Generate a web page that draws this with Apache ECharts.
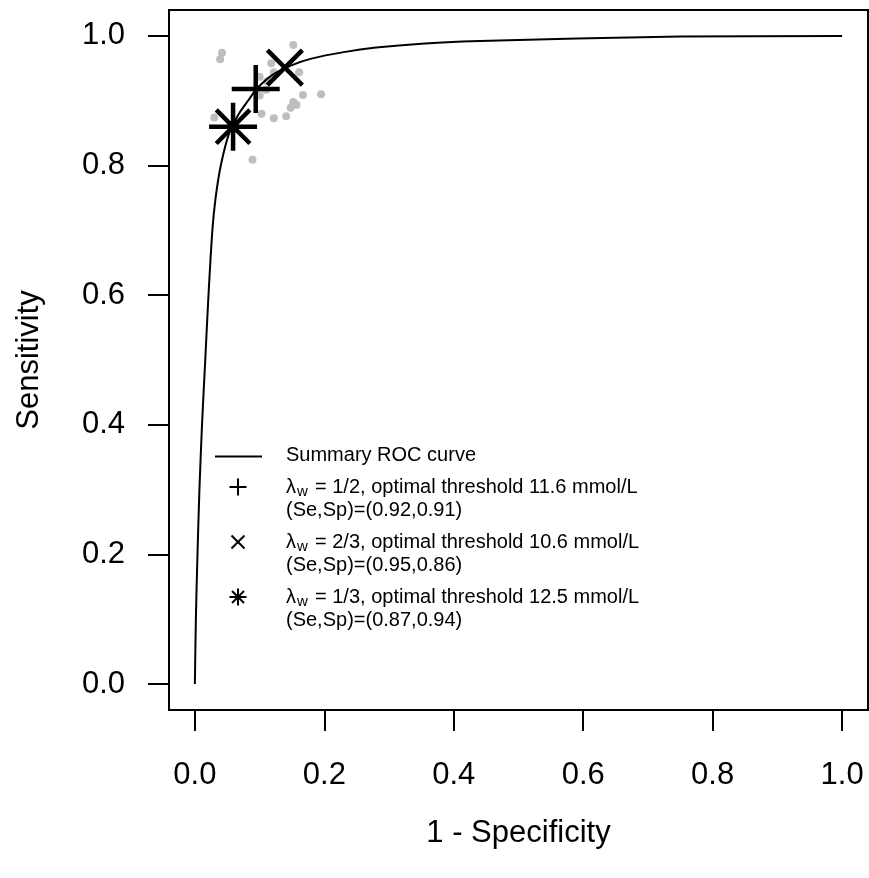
<!DOCTYPE html>
<html>
<head>
<meta charset="utf-8">
<script src="https://cdn.jsdelivr.net/npm/echarts@6/dist/echarts.min.js"></script>
<style>
html,body{margin:0;padding:0;background:#fff;}
#chart{width:869px;height:878px;}
</style>
</head>
<body>
<div id="chart"></div>
<script>
// ---- data ----
const tickValues = [0, 0.2, 0.4, 0.6, 0.8, 1.0];
const studyFPR  = [0.042,0.039,0.152,0.118,0.122,0.161,0.100,0.112,0.095,0.100,0.110,0.167,0.195,0.152,0.157,0.148,0.103,0.122,0.141,0.030,0.089];
const studySens = [0.974,0.964,0.986,0.958,0.944,0.944,0.937,0.930,0.915,0.908,0.917,0.909,0.910,0.898,0.894,0.889,0.880,0.873,0.876,0.874,0.809];
const curveFPR  = [0,0.0015,0.004,0.007,0.011,0.016,0.021,0.027,0.032,0.040,0.053,0.068,0.082,0.097,0.12,0.15,0.18,0.23,0.28,0.35,0.44,0.59,0.75,1.0];
const curveSens = [0,0.1,0.2,0.3,0.4,0.5,0.6,0.7,0.75,0.8,0.85,0.88,0.9,0.92,0.94,0.955,0.965,0.975,0.982,0.988,0.992,0.996,0.999,1.0];
const pointHalf  = [0.094, 0.918];   // lambda_w = 1/2
const pointTwo3  = [0.139, 0.951];   // lambda_w = 2/3
const pointOne3  = [0.059, 0.860];   // lambda_w = 1/3
const legendLabels = [
  'Summary ROC curve',
  ['1/2', 'optimal threshold 11.6 mmol/L', '(Se,Sp)=(0.92,0.91)'],
  ['2/3', 'optimal threshold 10.6 mmol/L', '(Se,Sp)=(0.95,0.86)'],
  ['1/3', 'optimal threshold 12.5 mmol/L', '(Se,Sp)=(0.87,0.94)']
];

const FONT = '"Liberation Sans", Arial, sans-serif';
const PLUS = 'path://M0,5L10,5M5,0L5,10';
const CROSS = 'path://M0,0L10,10M0,10L10,0';
const STAR = 'path://M0,5L10,5M5,0L5,10M1.5,1.5L8.5,8.5M1.5,8.5L8.5,1.5';

const chart = echarts.init(document.getElementById('chart'), null, {renderer: 'canvas'});

function markerSeries(name, pt, sym, size) {
  return {
    name: name, type: 'scatter', data: [pt], symbol: sym, symbolSize: size,
    itemStyle: {color: 'none', borderColor: '#000', borderWidth: 4.5, opacity: 1},
    z: 5, silent: true
  };
}

// legend graphics
const LX = 286, LFS = 20;
const rowsY = [455, 487, 510, 542, 565, 597, 620];
const g = [];
g.push({type: 'line', shape: {x1: 215, y1: 456.5, x2: 262, y2: 456.5}, style: {stroke: '#000', lineWidth: 2}});
g.push({type: 'text', x: LX, y: rowsY[0], style: {text: legendLabels[0], font: LFS + 'px ' + FONT, fill: '#000', verticalAlign: 'middle'}});
for (let i = 1; i <= 3; i++) {
  const y1 = rowsY[2 * i - 1], y2 = rowsY[2 * i];
  const e = legendLabels[i];
  g.push({type: 'text', x: LX, y: y1, style: {text: 'λ', font: LFS + 'px ' + FONT, fill: '#000', verticalAlign: 'middle'}});
  g.push({type: 'text', x: LX + 11, y: y1 + 5, style: {text: 'w', font: '15px ' + FONT, fill: '#000', verticalAlign: 'middle'}});
  g.push({type: 'text', x: LX + 29, y: y1, style: {text: '= ' + e[0] + ', ' + e[1], font: LFS + 'px ' + FONT, fill: '#000', verticalAlign: 'middle'}});
  g.push({type: 'text', x: LX, y: y2, style: {text: e[2], font: LFS + 'px ' + FONT, fill: '#000', verticalAlign: 'middle'}});
}
// legend symbols
const sx = 238;
const s = 8.5;
let y = rowsY[1];
g.push({type: 'line', shape: {x1: sx - s, y1: y, x2: sx + s, y2: y}, style: {stroke: '#000', lineWidth: 2}});
g.push({type: 'line', shape: {x1: sx, y1: y - s, x2: sx, y2: y + s}, style: {stroke: '#000', lineWidth: 2}});
y = rowsY[3];
const c = 6.5;
g.push({type: 'line', shape: {x1: sx - c, y1: y - c, x2: sx + c, y2: y + c}, style: {stroke: '#000', lineWidth: 2}});
g.push({type: 'line', shape: {x1: sx - c, y1: y + c, x2: sx + c, y2: y - c}, style: {stroke: '#000', lineWidth: 2}});
y = rowsY[5];
const d = 6;
g.push({type: 'line', shape: {x1: sx - s, y1: y, x2: sx + s, y2: y}, style: {stroke: '#000', lineWidth: 2}});
g.push({type: 'line', shape: {x1: sx, y1: y - s, x2: sx, y2: y + s}, style: {stroke: '#000', lineWidth: 2}});
g.push({type: 'line', shape: {x1: sx - d, y1: y - d, x2: sx + d, y2: y + d}, style: {stroke: '#000', lineWidth: 2}});
g.push({type: 'line', shape: {x1: sx - d, y1: y + d, x2: sx + d, y2: y - d}, style: {stroke: '#000', lineWidth: 2}});

const axisCommon = {
  type: 'value', min: -0.04, max: 1.04,
  splitLine: {show: false},
  axisLine: {show: false, onZero: false},
  axisTick: {show: true, customValues: tickValues, length: 21, inside: false, lineStyle: {color: '#000', width: 2}},
  axisLabel: {customValues: tickValues, color: '#000', fontSize: 31, fontFamily: FONT, formatter: v => v.toFixed(1)},
  nameLocation: 'middle',
  nameTextStyle: {color: '#000', fontSize: 31, fontFamily: FONT}
};

const option = {
  animation: false,
  backgroundColor: '#fff',
  grid: {left: 169, right: 1, top: 10, bottom: 168, containLabel: false, outerBoundsMode: 'none',
         show: true, borderColor: '#000', borderWidth: 2, backgroundColor: 'transparent'},
  xAxis: Object.assign({}, axisCommon, {
    name: '1 - Specificity', nameGap: 108,
    axisLabel: Object.assign({}, axisCommon.axisLabel, {margin: 50})
  }),
  yAxis: Object.assign({}, axisCommon, {
    name: 'Sensitivity', nameGap: 124, nameRotate: 90,
    axisLabel: Object.assign({}, axisCommon.axisLabel, {margin: 44})
  }),
  series: [
    {
      name: 'studies', type: 'scatter', symbol: 'circle', symbolSize: 8,
      data: studyFPR.map((x, i) => [x, studySens[i]]),
      itemStyle: {color: '#bebebe', opacity: 1}, z: 1, silent: true
    },
    {
      name: 'Summary ROC curve', type: 'line', showSymbol: false, smooth: 0.25,
      data: curveFPR.map((x, i) => [x, curveSens[i]]),
      lineStyle: {color: '#000', width: 2}, z: 3, silent: true
    },
    markerSeries('lambda 1/2', pointHalf, PLUS, 48),
    markerSeries('lambda 2/3', pointTwo3, CROSS, 35),
    markerSeries('lambda 1/3', pointOne3, STAR, 48)
  ],
  graphic: g
};
chart.setOption(option);
</script>
</body>
</html>
